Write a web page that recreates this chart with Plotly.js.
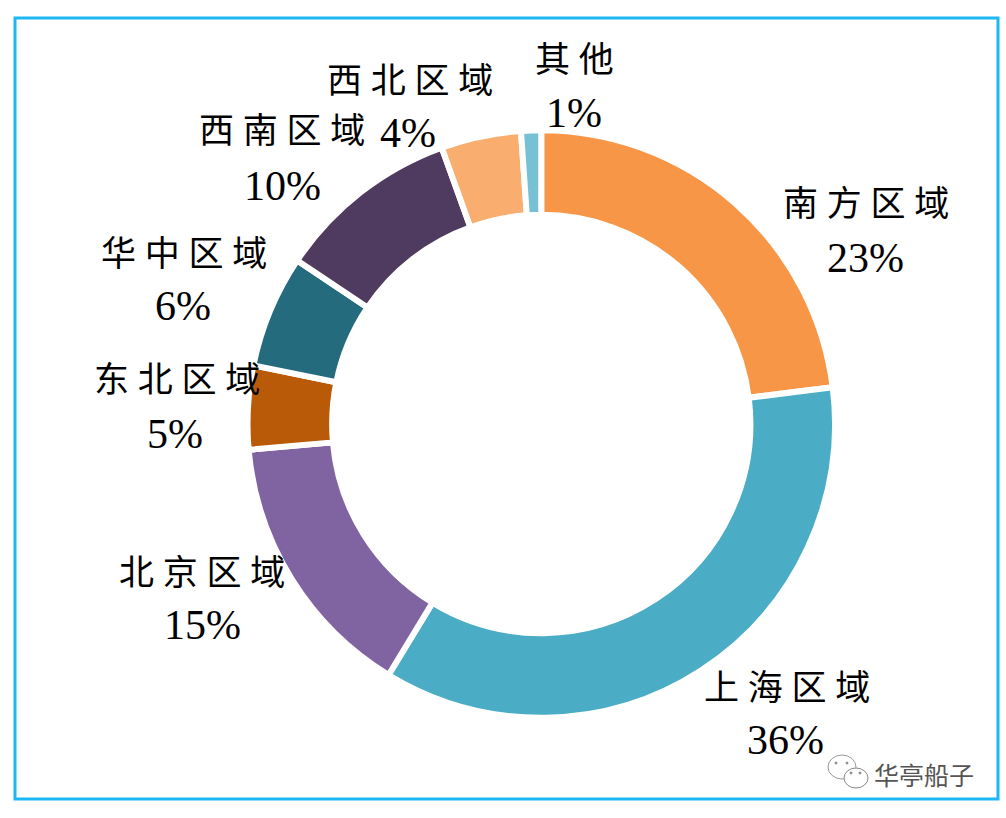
<!DOCTYPE html>
<html><head><meta charset="utf-8">
<script src="https://cdn.plot.ly/plotly-3.0.1.min.js"></script>
<style>html,body{margin:0;padding:0;background:#fff}</style></head>
<body><div id="c" style="width:1006px;height:818px"></div>
<script>
const categories=["南方区域","上海区域","北京区域","东北区域","华中区域","西南区域","西北区域","其他"];
const values=[23,35.7,14.9,4.6,6.2,10.1,4.4,1.1];
const percents=["23%","36%","15%","5%","6%","10%","4%","1%"];
const colors=["#F79646","#4BACC6","#8064A2","#B95A08","#256B7E","#4F3A60","#F9AD6E","#78C0D4"];
const labelX=[866,787,202,177,184,282,410,574];
const labelY=[204,688,573,380,254,132,81,60];
const pctX=[865,785,202,175,183,282,408,574];
const pctY=[258,740,625,434,306,186,133,113];
const font="'Liberation Serif','Noto Sans CJK SC',serif";
const W=1006,H=818;
const px=x=>x/W, py=y=>1-y/H;
const annotations=[];
categories.forEach((c,i)=>annotations.push({xref:'paper',yref:'paper',x:px(labelX[i]),y:py(labelY[i]),text:c.split('').join(' '),showarrow:false,font:{family:font,size:35,color:'#000'},xanchor:'center',yanchor:'middle'}));
percents.forEach((p,i)=>annotations.push({xref:'paper',yref:'paper',x:px(pctX[i]),y:py(pctY[i]),text:p,showarrow:false,font:{family:font,size:42,color:'#000'},xanchor:'center',yanchor:'middle'}));
annotations.push({xref:'paper',yref:'paper',x:px(924),y:py(774),text:"华亭船子",showarrow:false,font:{family:"'Noto Sans CJK SC',sans-serif",size:25,color:'#555'},xanchor:'center',yanchor:'middle'});
const circ=(cx,cy,rx,ry,fill,line)=>({type:'circle',xref:'paper',yref:'paper',x0:px(cx-rx),x1:px(cx+rx),y0:py(cy+ry),y1:py(cy-ry),fillcolor:fill,line:{color:line,width:1}});
Plotly.newPlot('c',[{type:'pie',labels:categories,values:values,sort:false,direction:'clockwise',rotation:0,hole:0.712,
 marker:{colors:colors,line:{color:'#fff',width:6}},textinfo:'none',hoverinfo:'label+percent',
 domain:{x:[px(247.5),px(835)],y:[py(719),py(129)]}}],
 {width:W,height:H,margin:{l:0,r:0,t:0,b:0},showlegend:false,paper_bgcolor:'#fff',annotations:annotations,
 shapes:[{type:'rect',xref:'paper',yref:'paper',x0:px(15),x1:px(998),y0:py(799),y1:py(18),line:{color:'#1CB8F4',width:3},fillcolor:'rgba(0,0,0,0)'},
  circ(842,767,14,12,'#fff','#999'),circ(856,778,12,10,'#fff','#888'),
  circ(836,763,1,1,'#888','#888'),circ(847,763,1,1,'#888','#888'),circ(851,773,1,1,'#888','#888'),circ(860,773,1,1,'#888','#888')]},
 {displayModeBar:false});
</script></body></html>
